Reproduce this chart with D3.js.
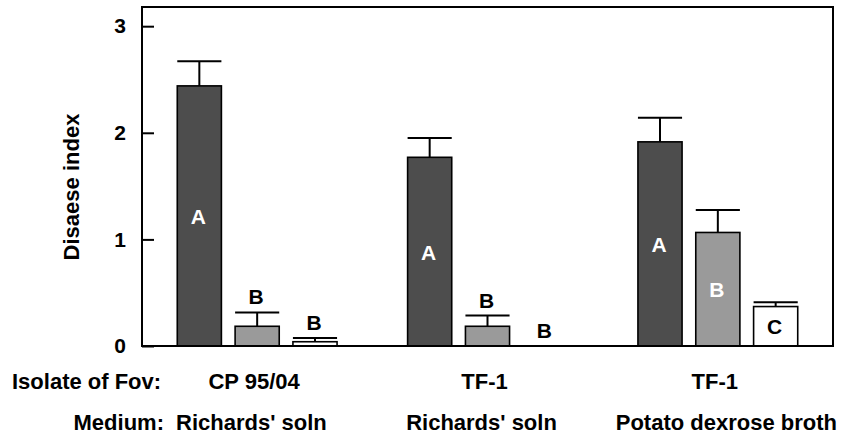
<!DOCTYPE html>
<html>
<head>
<meta charset="utf-8">
<script src="https://cdn.jsdelivr.net/npm/d3@7"></script>
<style>
html,body{margin:0;padding:0;background:#fff;}
svg{display:block;}
text{font-family:"Liberation Sans",Arial,Helvetica,sans-serif;font-weight:bold;}
</style>
</head>
<body>
<svg id="chart" width="843" height="436"></svg>
<script>
// ---- data ----
const groups = ["g1", "g2", "g3"];
const isolates = ["CP 95/04", "TF-1", "TF-1"];
const media = ["Richards' soln", "Richards' soln", "Potato dexrose broth"];
const series = ["s1", "s2", "s3"];
const meanS1 = [2.44, 1.77, 1.915];
const meanS2 = [0.185, 0.185, 1.065];
const meanS3 = [0.04, 0.0, 0.37];
const errTopS1 = [2.67, 1.95, 2.14];
const errTopS2 = [0.315, 0.285, 1.275];
const errTopS3 = [0.075, 0.0, 0.41];
const lettersS1 = ["A", "A", "A"];
const lettersS2 = ["B", "B", "B"];
const lettersS3 = ["B", "B", "C"];
const yTicks = [0, 1, 2, 3];

const fills = ["#4d4d4d", "#9a9a9a", "#ffffff"];
const insideColor = ["#ffffff", "#ffffff", "#000000"];

const means = [meanS1, meanS2, meanS3];
const errTops = [errTopS1, errTopS2, errTopS3];
const letters = [lettersS1, lettersS2, lettersS3];

const rows = [];
groups.forEach((g, gi) => series.forEach((s, si) => rows.push({
  g, s, si, v: means[si][gi], e: errTops[si][gi], L: letters[si][gi]
})));

const svg = d3.select("#chart");
const pL = 142, pR = 833, pT = 7, pB = 346;

const x0 = d3.scaleBand().domain(groups).range([pL, pR]).padding(0);
const x1 = d3.scaleBand().domain(series).range([0, x0.bandwidth()])
  .paddingInner(0.237).paddingOuter(0.61);
const y = d3.scaleLinear().domain([0, 3.18]).range([pB, pT]);

// bars
const g = svg.append("g");
g.selectAll("rect.bar").data(rows.filter(d => d.v > 0)).join("rect")
  .attr("class", "bar")
  .attr("x", d => x0(d.g) + x1(d.s))
  .attr("width", x1.bandwidth())
  .attr("y", d => y(d.v))
  .attr("height", d => y(0) - y(d.v))
  .attr("fill", d => fills[d.si])
  .attr("stroke", "#000")
  .attr("stroke-width", 1.6);

// error bars
const eb = rows.filter(d => d.e > d.v);
g.selectAll("line.estem").data(eb).join("line").attr("class", "estem")
  .attr("x1", d => x0(d.g) + x1(d.s) + x1.bandwidth() / 2)
  .attr("x2", d => x0(d.g) + x1(d.s) + x1.bandwidth() / 2)
  .attr("y1", d => y(d.v)).attr("y2", d => y(d.e))
  .attr("stroke", "#000").attr("stroke-width", 2);
g.selectAll("line.ecap").data(eb).join("line").attr("class", "ecap")
  .attr("x1", d => x0(d.g) + x1(d.s))
  .attr("x2", d => x0(d.g) + x1(d.s) + x1.bandwidth())
  .attr("y1", d => y(d.e)).attr("y2", d => y(d.e))
  .attr("stroke", "#000").attr("stroke-width", 2);

// letters
const inside = d => (y(0) - y(d.v)) > 30;
g.selectAll("text.lt").data(rows).join("text").attr("class", "lt")
  .attr("x", d => x0(d.g) + x1(d.s) + x1.bandwidth() / 2 - 1)
  .attr("y", d => inside(d) ? (y(0) + y(d.v)) / 2 + 8 : y(d.e) - 8)
  .attr("text-anchor", "middle")
  .attr("font-size", 21)
  .attr("fill", d => inside(d) ? insideColor[d.si] : "#000")
  .text(d => d.L);

// frame
svg.append("rect").attr("x", pL).attr("y", pT)
  .attr("width", pR - pL).attr("height", pB - pT)
  .attr("fill", "none").attr("stroke", "#000").attr("stroke-width", 2);

// y axis (ticks inward)
const yAxis = d3.axisLeft(y).tickValues(yTicks).tickFormat(d3.format("d")).tickSize(-12).tickPadding(16);
const ya = svg.append("g").attr("transform", `translate(${pL},0)`).call(yAxis);
ya.select(".domain").remove();
ya.selectAll(".tick line").attr("stroke", "#000").attr("stroke-width", 2);
ya.selectAll(".tick text").attr("font-size", 21).attr("fill", "#000")
  .attr("font-family", "Liberation Sans, Arial, sans-serif").attr("font-weight", "bold");

// y title
svg.append("text")
  .attr("transform", "translate(79,187) rotate(-90)")
  .attr("text-anchor", "middle")
  .attr("font-size", 22)
  .text("Disaese index");

// category labels
svg.append("text").attr("x", 12).attr("y", 389).attr("font-size", 22).text("Isolate of Fov:");
svg.append("text").attr("x", 164).attr("y", 430).attr("font-size", 22).attr("text-anchor", "end").text("Medium:");
svg.selectAll("text.iso").data(groups).join("text").attr("class", "iso")
  .attr("x", (d, i) => x0(d) + x0.bandwidth() / 2 - 3)
  .attr("y", 389).attr("text-anchor", "middle").attr("font-size", 22)
  .text((d, i) => isolates[i]);
svg.selectAll("text.med").data(groups).join("text").attr("class", "med")
  .attr("x", (d, i) => i === 0 ? 176 : (i === 2 ? 837 : x0(d) + x0.bandwidth() / 2 - 6))
  .attr("y", 430)
  .attr("text-anchor", (d, i) => i === 0 ? "start" : (i === 2 ? "end" : "middle"))
  .attr("font-size", 22)
  .text((d, i) => media[i]);
</script>
</body>
</html>
